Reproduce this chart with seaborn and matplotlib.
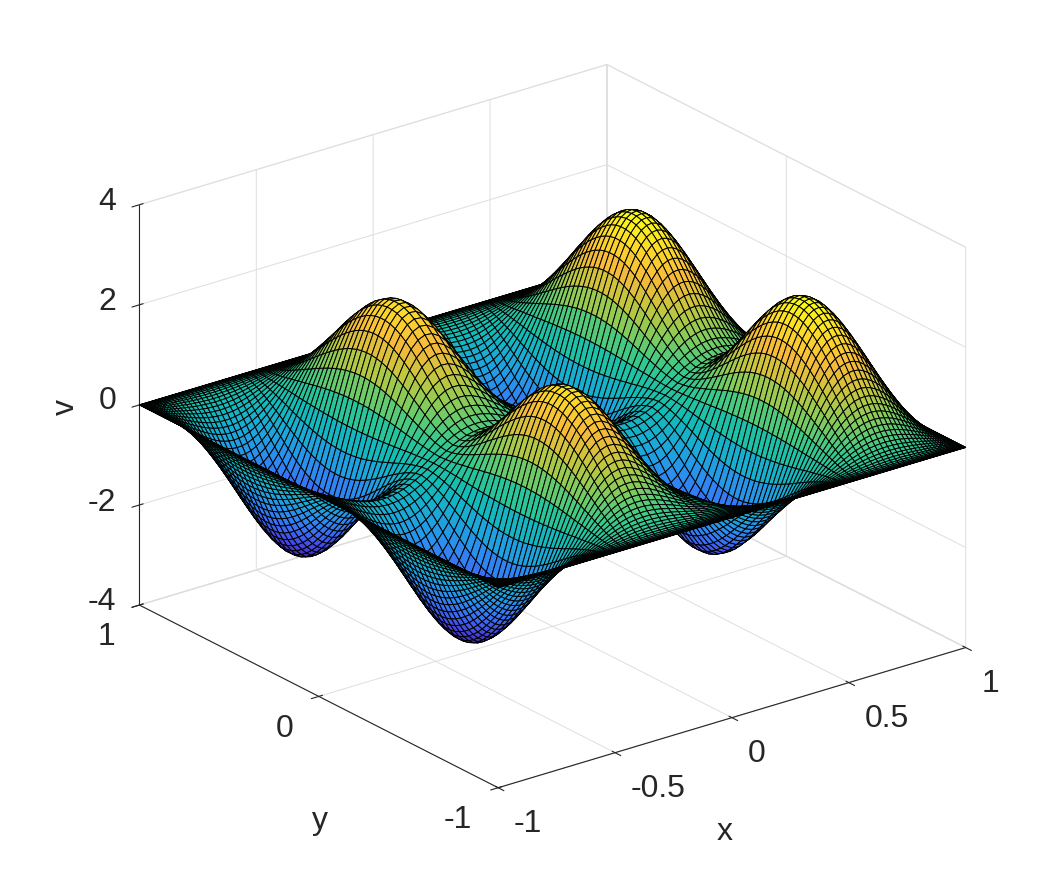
import numpy as np
import matplotlib
matplotlib.use('Agg')
import seaborn as sns
from matplotlib import pyplot as plt

# grid nodes from 1 down to 0, clustered towards the edge
grid_half = [1.0, 0.99951, 0.99803, 0.99556, 0.99211, 0.98769, 0.98229, 0.97592, 0.96858, 0.96029,
             0.95106, 0.94088, 0.92978, 0.91775, 0.90483, 0.89101, 0.87631, 0.86074, 0.84433, 0.82708,
             0.80902, 0.79016, 0.77051, 0.75011, 0.72897, 0.70711, 0.68455, 0.66131, 0.63742, 0.61291,
             0.58779, 0.56208, 0.53583, 0.50904, 0.48175, 0.45399, 0.42578, 0.39715, 0.36812, 0.33874,
             0.30902, 0.27899, 0.24869, 0.21814, 0.18738, 0.15643, 0.12533, 0.09411, 0.06279, 0.03141, 0.0]

# shape along x on the grid nodes, from x=1 to x=0 (changes sign across x=0)
profile_x = [0.0, 0.001, 0.005, 0.013, 0.025, 0.042, 0.064, 0.091, 0.124, 0.162,
             0.206, 0.256, 0.31, 0.37, 0.434, 0.501, 0.57, 0.641, 0.711, 0.778,
             0.84, 0.893, 0.937, 0.967, 0.98, 0.973, 0.945, 0.891, 0.813, 0.708,
             0.578, 0.424, 0.251, 0.064, -0.13, -0.316, -0.485, -0.627, -0.736, -0.807,
             -0.838, -0.831, -0.788, -0.716, -0.619, -0.508, -0.388, -0.269, -0.157, -0.062, 0.0]

# height along y on the grid nodes, from y=1 to y=0 (same on both sides of y=0)
profile_y = [0.0, 0.0001, 0.0007, 0.0024, 0.006, 0.0122, 0.0218, 0.0357, 0.0547, 0.0796,
             0.1107, 0.1498, 0.1965, 0.252, 0.3166, 0.3905, 0.4746, 0.568, 0.671, 0.7835,
             0.904, 1.033, 1.167, 1.306, 1.448, 1.589, 1.73, 1.864, 1.995, 2.112,
             2.217, 2.306, 2.377, 2.424, 2.448, 2.445, 2.416, 2.357, 2.269, 2.156,
             2.017, 1.858, 1.682, 1.494, 1.301, 1.108, 0.924, 0.756, 0.612, 0.504, 0.45]

x_ticks = [-1, -0.5, 0, 0.5, 1]
x_labels = ['-1', '-0.5', '0', '0.5', '1']
y_ticks = [-1, 0, 1]
y_labels = ['-1', '0', '1']
z_ticks = [-4, -2, 0, 2, 4]
z_labels = ['-4', '-2', '0', '2', '4']

parula_stops = ['#3e26a8', '#4743e0', '#3a6cf5', '#2b8ef0', '#1aa9d8', '#12bdb5',
                '#35c98c', '#82cc5c', '#c4c63e', '#f6b93a', '#fcd82a', '#f9fb15']

sns.set_style("white")
plt.rcParams['font.family'] = ['Liberation Sans', 'DejaVu Sans']
parula = sns.blend_palette(parula_stops, n_colors=256, as_cmap=True)

half = np.array(grid_half)
grid = np.concatenate([-half, half[-2::-1]])
vx = np.array(profile_x)
vx = np.concatenate([-vx, vx[-2::-1]])
vy = np.array(profile_y)
vy = np.concatenate([vy, vy[-2::-1]])
X, Y = np.meshgrid(grid, grid)
V = np.outer(vy, vx)


def PutText(x, y, text, **kwargs):
    fig.text(x/1063, 1-y/886, text, size=23, color='#262626', **kwargs)


fig = plt.figure(figsize=(10.63, 8.86), dpi=100)
axe = fig.add_axes([-0.0068, -0.0099, 1.03, 1.03], projection='3d')
axe.set_proj_type('ortho')
axe.view_init(elev=23, azim=-127.5)
axe.set_box_aspect((1, 1, 0.738), zoom=1.0)
axe.plot_surface(X, Y, V, rstride=1, cstride=1, cmap=parula, edgecolor='black', linewidth=0.7, shade=False, antialiased=True)
axe.set_xlim(-1, 1, view_margin=0)
axe.set_ylim(-1, 1, view_margin=0)
axe.set_zlim(-4, 4, view_margin=0)
axe.set_xticks(x_ticks)
axe.set_xticklabels([])
axe.set_yticks(y_ticks)
axe.set_yticklabels([])
axe.set_zticks(z_ticks)
axe.set_zticklabels([])
for axis in [axe.xaxis, axe.yaxis, axe.zaxis]:
    axis.pane.set_facecolor('white')
    axis.pane.set_edgecolor('#d9d9d9')
    axis._axinfo['grid']['color'] = '#dedede'
    axis._axinfo['grid']['linewidth'] = 0.7
    axis.line.set_color('#262626')
    axis.line.set_linewidth(0.8)

for label, base in zip(z_labels, [610.5, 510.5, 409.5, 309.5, 209.5]):
    PutText(116, base, label, ha='right', va='baseline')
for label, pos in zip(y_labels, [(458, 828), (285, 737), (106, 645)]):
    PutText(pos[0], pos[1], label, ha='center', va='baseline')
for label, pos in zip(x_labels, [(528, 832), (658, 797), (757, 762), (887, 727), (990, 692)]):
    PutText(pos[0], pos[1], label, ha='center', va='baseline')
PutText(725, 840, 'x', ha='center', va='baseline')
PutText(320, 829, 'y', ha='center', va='baseline')
PutText(66, 407, 'v', ha='center', va='center', rotation=90)
fig.savefig('out.png', dpi=100)
